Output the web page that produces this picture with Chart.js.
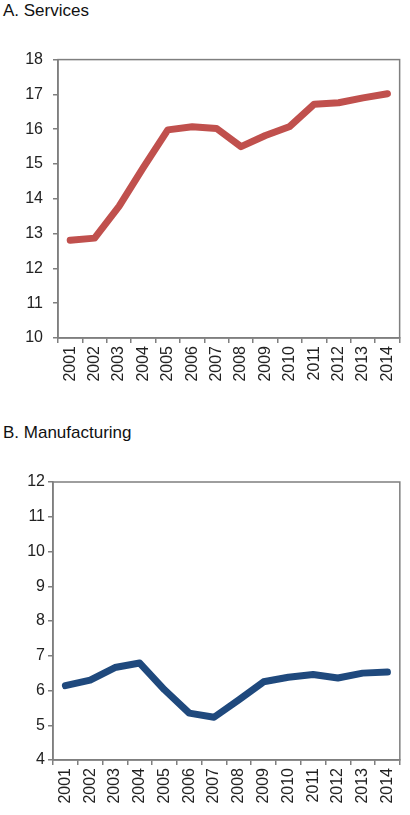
<!DOCTYPE html>
<html>
<head>
<meta charset="utf-8">
<script src="https://cdn.jsdelivr.net/npm/chart.js@4/dist/chart.umd.min.js"></script>
<style>
  body { margin: 0; background: #fff; width: 410px; height: 815px; position: relative; font-family: "Liberation Sans", Arial, sans-serif; }
  .title { position: absolute; left: 3px; font-size: 17px; color: #111; }
  .box { position: absolute; left: 0; width: 410px; height: 360px; }
</style>
</head>
<body>
<div class="title" style="top:1px">A. Services</div>
<div class="box" style="top:40px"><canvas id="chartA"></canvas></div>
<div class="title" style="top:423px">B. Manufacturing</div>
<div class="box" style="top:460px"><canvas id="chartB"></canvas></div>
<script>
const years = ["2001","2002","2003","2004","2005","2006","2007","2008","2009","2010","2011","2012","2013","2014"];
const services = [12.81, 12.87, 13.78, 14.9, 15.98, 16.07, 16.02, 15.5, 15.82, 16.08, 16.72, 16.76, 16.9, 17.02];
const manufacturing = [6.14, 6.3, 6.66, 6.79, 6.02, 5.35, 5.23, 5.73, 6.25, 6.38, 6.46, 6.36, 6.5, 6.53];

const frame = {
  id: "frame",
  afterDraw(chart) {
    const a = chart.chartArea, c = chart.ctx;
    c.save();
    c.strokeStyle = "#7f7f7f";
    c.lineWidth = 1.5;
    c.strokeRect(a.left, a.top, a.right - a.left, a.bottom - a.top);
    c.restore();
  }
};

function makeChart(id, data, color, yMin, yMax, yWidth, xHeight, padTop, yPad) {
  new Chart(document.getElementById(id), {
    type: "line",
    data: {
      labels: years,
      datasets: [{ data: data, borderColor: color, borderWidth: 7, pointRadius: 0, tension: 0, borderCapStyle: "round", borderJoinStyle: "round" }]
    },
    options: {
      responsive: true,
      maintainAspectRatio: false,
      animation: false,
      layout: { padding: { top: padTop, right: 10, left: 0, bottom: 0 } },
      plugins: { legend: { display: false }, tooltip: { enabled: false } },
      scales: {
        x: {
          offset: true,
          grid: { offset: true, drawOnChartArea: false, tickLength: 5, color: "#7f7f7f", lineWidth: 1.5 },
          border: { color: "#7f7f7f", width: 1.5 },
          ticks: { maxRotation: 90, minRotation: 90, autoSkip: false, color: "#222", font: { family: "Liberation Sans", size: 16 }, padding: 3 },
          afterFit(s) { s.height = xHeight; }
        },
        y: {
          min: yMin, max: yMax,
          grid: { drawOnChartArea: false, tickLength: 5, color: "#7f7f7f", lineWidth: 1.5 },
          border: { color: "#7f7f7f", width: 1.5 },
          ticks: { stepSize: 1, color: "#222", font: { family: "Liberation Sans", size: 16 }, padding: yPad },
          afterFit(s) { s.width = yWidth; }
        }
      }
    },
    plugins: [frame]
  });
}

makeChart("chartA", services, "#C0504D", 10, 18, 58, 62, 19, 10);
makeChart("chartB", manufacturing, "#1F497D", 4, 12, 53, 60, 22, 3);
</script>
</body>
</html>
